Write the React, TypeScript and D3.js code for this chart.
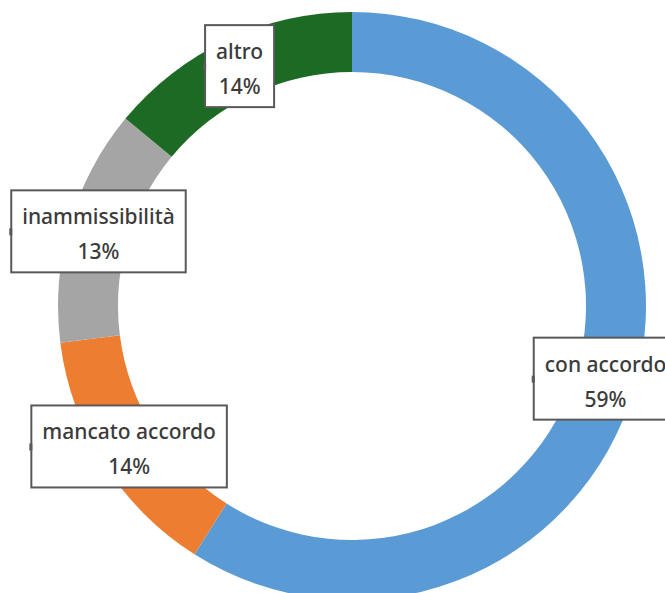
import { useEffect, useRef } from "react";
import * as d3 from "d3";

const categories = ["con accordo", "mancato accordo", "inammissibilità", "altro"];
const values = [59, 14, 13, 14];
const colors = ["#5B9BD5", "#ED7D31", "#A5A5A5", "#1D6A24"];

export default function App() {
  const svgRef = useRef<SVGSVGElement>(null);

  useEffect(() => {
    const width = 665;
    const height = 593;
    const cx = 352;
    const cy = 306;
    const outer = 294;
    const inner = 234;

    const svg = d3.select(svgRef.current);
    svg.selectAll("*").remove();

    const data = categories.map((c, i) => ({ name: c, value: values[i], color: colors[i] }));
    const total = d3.sum(values);
    const pie = d3.pie<any>().sort(null).value((d) => d.value);
    const arc = d3.arc<any>().innerRadius(inner).outerRadius(outer);
    const arcs = pie(data);

    const g = svg.append("g").attr("transform", `translate(${cx},${cy})`);
    g.selectAll("path")
      .data(arcs)
      .join("path")
      .attr("d", arc)
      .attr("fill", (d) => d.data.color);

    const labels = g.selectAll("g.lbl").data(arcs).join("g").attr("class", "lbl")
      .attr("transform", (d) => `translate(${arc.centroid(d)})`);

    labels.each(function (d) {
      const lg = d3.select(this);
      const rect = lg.append("rect");
      const t1 = lg.append("text")
        .attr("text-anchor", "middle")
        .attr("y", -8)
        .attr("font-family", "'Noto Sans', sans-serif")
        .attr("font-size", 21)
        .attr("font-weight", 500)
        .attr("fill", "#3b3b3b")
        .text(d.data.name);
      lg.append("text")
        .attr("text-anchor", "middle")
        .attr("y", 27)
        .attr("font-family", "'Noto Sans', sans-serif")
        .attr("font-size", 21)
        .attr("font-weight", 500)
        .attr("fill", "#3b3b3b")
        .text(`${Math.round((d.data.value / total) * 100)}%`);
      const w = (t1.node() as SVGTextElement).getComputedTextLength() + 22;
      const h = 82;
      rect.attr("x", -w / 2).attr("y", -h / 2 - 1).attr("width", w).attr("height", h)
        .attr("fill", "#fff").attr("stroke", "#595959").attr("stroke-width", 2);
      lg.append("rect").attr("x", -w / 2 - 2).attr("y", -4).attr("width", 3).attr("height", 7).attr("fill", "#595959");
    });

    svg.attr("width", width).attr("height", height);
  }, []);

  return (
    <div style={{ position: "fixed", left: 0, top: 0 }}>
      <svg ref={svgRef} width={665} height={593} style={{ display: "block" }} />
    </div>
  );
}
